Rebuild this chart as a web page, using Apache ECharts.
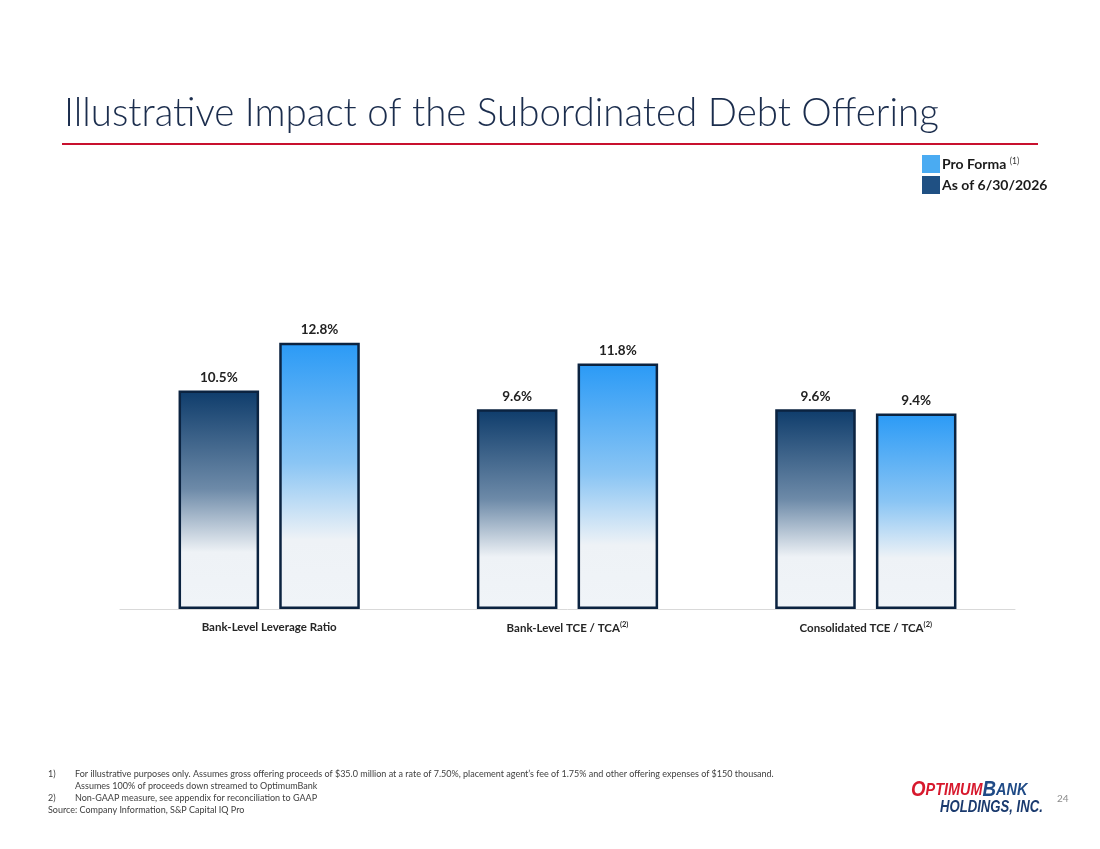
<!DOCTYPE html>
<html>
<head>
<meta charset="utf-8">
<title>Illustrative Impact of the Subordinated Debt Offering</title>
<script src="https://cdn.jsdelivr.net/npm/echarts@6/dist/echarts.min.js"></script>
<style>
    html, body { margin: 0; padding: 0; background: #ffffff; }
    #chart { width: 1100px; height: 849px; }
</style>
</head>
<body>
<div id="chart"></div>
<script>
// 数据
var categories = ['Bank-Level Leverage Ratio', 'Bank-Level TCE / TCA', 'Consolidated TCE / TCA'];
var categoryNotes = ['', '(2)', '(2)'];
var asOfValues = [10.5, 9.6, 9.6];
var proFormaValues = [12.8, 11.8, 9.4];
var footnotes = [
    ['1)', 'For illustrative purposes only. Assumes gross offering proceeds of $35.0 million at a rate of 7.50%, placement agent\u2019s fee of 1.75% and other offering expenses of $150 thousand.'],
    ['', 'Assumes 100% of proceeds down streamed to OptimumBank'],
    ['2)', 'Non-GAAP measure, see appendix for reconciliation to GAAP'],
    ['Source: Company Information, S&P Capital IQ Pro', '']
];

var myChart = echarts.init(document.getElementById('chart'));

function barGradient(top, mid) {
    return new echarts.graphic.LinearGradient(0, 0, 0, 1, [
        {offset: 0, color: top},
        {offset: 0.45, color: mid},
        {offset: 0.74, color: '#eef2f6'},
        {offset: 1, color: '#f0f4f8'}
    ]);
}

var labelStyle = {
    show: true,
    position: 'top',
    distance: 6,
    fontFamily: 'Lato',
    fontWeight: 'bold',
    fontSize: 13.5,
    color: '#222222',
    formatter: function (p) {
        return p.value.toFixed(1) + '%';
    }
};

// 脚注
var noteGraphics = [];
for (var i = 0; i < footnotes.length; i++) {
    var y = 776 + i * 12;
    if (footnotes[i][0] !== '') {
        noteGraphics.push({type: 'text', left: 48, top: y - 6,
            style: {text: footnotes[i][0], fontFamily: 'Lato', fontSize: 9, fill: '#404040'}});
    }
    if (footnotes[i][1] !== '') {
        noteGraphics.push({type: 'text', left: 75, top: y - 6,
            style: {text: footnotes[i][1], fontFamily: 'Lato', fontSize: 9, fill: '#404040'}});
    }
}

var logoFont = 'Liberation Sans';

var option = {
    backgroundColor: '#ffffff',
    animation: false,
    title: {
        text: 'Illustrative Impact of the Subordinated Debt Offering',
        left: 59,
        top: 89,
        textStyle: {
            fontFamily: 'Lato',
            fontWeight: 300,
            fontSize: 38.5,
            color: '#1b2d4d'
        }
    },
    legend: {
        orient: 'vertical',
        left: 917,
        top: 150,
        itemWidth: 18,
        itemHeight: 18,
        itemGap: 3,
        icon: 'rect',
        selectedMode: false,
        data: [
            {name: 'Pro Forma', itemStyle: {color: '#4aabf2', borderWidth: 0}},
            {name: 'As of 6/30/2026', itemStyle: {color: '#1f5083', borderWidth: 0}}
        ],
        formatter: function (name) {
            if (name === 'Pro Forma') {
                return '{b|Pro Forma} {s|(1)}';
            }
            return '{b|' + name + '}';
        },
        textStyle: {
            padding: [0, 0, 0, -3],
            rich: {
                b: {fontFamily: 'Lato', fontWeight: 'bold', fontSize: 14, color: '#1a1a1a'},
                s: {fontFamily: 'Lato', fontSize: 8.5, color: '#333333', verticalAlign: 'top', padding: [0, 0, 6, 0]}
            }
        }
    },
    grid: {
        left: 120,
        right: 85,
        top: 193,
        bottom: 240
    },
    xAxis: {
        type: 'category',
        data: categories,
        axisTick: {show: false},
        axisLine: {lineStyle: {color: '#d9d9d9', width: 1}},
        axisLabel: {
            margin: 12,
            formatter: function (value, idx) {
                var note = categoryNotes[idx];
                return '{a|' + value + '}' + (note ? '{s|' + note + '}' : '');
            },
            rich: {
                a: {fontFamily: 'Lato', fontWeight: 'bold', fontSize: 11.5, color: '#262626'},
                s: {fontFamily: 'Lato', fontWeight: 'bold', fontSize: 7.5, color: '#262626', verticalAlign: 'top', padding: [0, 0, 6, 0]}
            }
        }
    },
    yAxis: {
        type: 'value',
        min: 0,
        max: 20,
        show: false,
        splitLine: {show: false}
    },
    series: [
        {
            name: 'As of 6/30/2026',
            type: 'bar',
            barWidth: '27%',
            barGap: '25%',
            data: asOfValues,
            itemStyle: {
                color: barGradient('#0e3c6b', '#6d8aa8'),
                borderColor: '#0b2340',
                borderWidth: 2.5
            },
            label: labelStyle
        },
        {
            name: 'Pro Forma',
            type: 'bar',
            barWidth: '27%',
            data: proFormaValues,
            itemStyle: {
                color: barGradient('#2a9af6', '#8ac5f4'),
                borderColor: '#0b2340',
                borderWidth: 2.5
            },
            label: labelStyle
        }
    ],
    graphic: [
        {
            type: 'rect',
            shape: {x: 62, y: 143, width: 976, height: 2},
            style: {fill: '#c8102e'}
        },
        {
            type: 'text',
            x: 911,
            y: 779,
            scaleX: 0.85,
            style: {
                rich: {
                    big: {fontFamily: logoFont, fontStyle: 'italic', fontWeight: 'bold', fontSize: 22, fill: '#d7192d'},
                    sm: {fontFamily: logoFont, fontStyle: 'italic', fontWeight: 'bold', fontSize: 17, fill: '#d7192d'},
                    bigB: {fontFamily: logoFont, fontStyle: 'italic', fontWeight: 'bold', fontSize: 22, fill: '#1f4a86'},
                    smB: {fontFamily: logoFont, fontStyle: 'italic', fontWeight: 'bold', fontSize: 17, fill: '#1f4a86'}
                },
                text: '{big|O}{sm|PTIMUM}{bigB|B}{smB|ANK}'
            }
        },
        {
            type: 'text',
            x: 940,
            y: 800,
            scaleX: 0.82,
            style: {
                text: 'HOLDINGS, INC.',
                fontFamily: logoFont,
                fontStyle: 'italic',
                fontWeight: 'bold',
                fontSize: 16,
                fill: '#1a3a6e'
            }
        },
        {
            type: 'text',
            left: 1057,
            top: 794,
            style: {text: '24', fontFamily: 'Lato', fontSize: 10, fill: '#8c8c8c'}
        }
    ].concat(noteGraphics)
};

myChart.setOption(option);
</script>
</body>
</html>
